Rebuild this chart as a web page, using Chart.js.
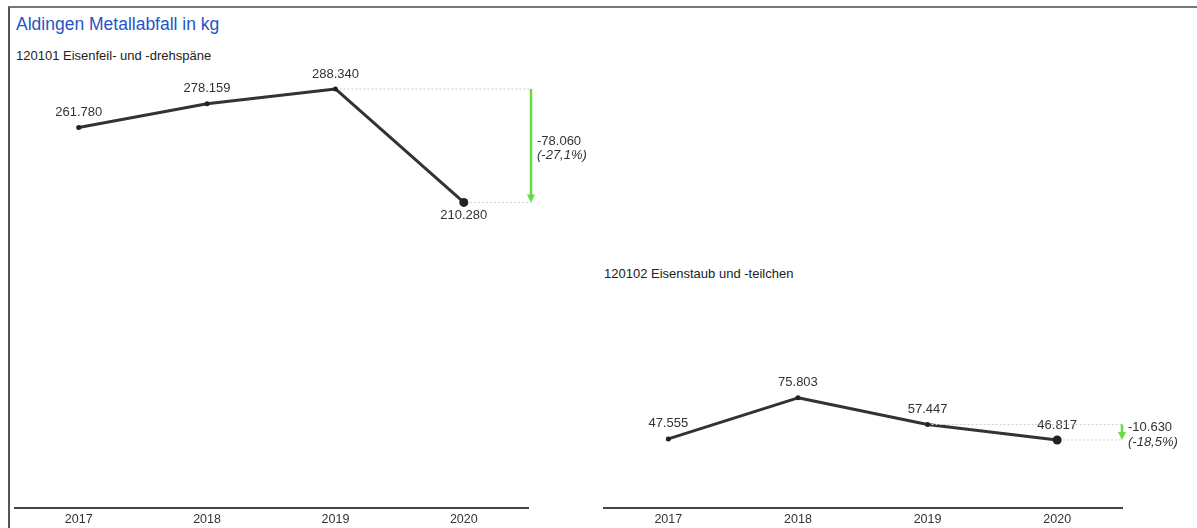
<!DOCTYPE html>
<html>
<head>
<meta charset="utf-8">
<script src="https://cdn.jsdelivr.net/npm/chart.js@4/dist/chart.umd.min.js"></script>
<style>
  html, body { margin: 0; padding: 0; background: #fff; width: 1197px; height: 528px; overflow: hidden; font-family: "Liberation Sans", Arial, sans-serif; }
  #frame { position: absolute; left: 8px; top: 6px; width: 1189px; height: 522px; border-top: 2px solid #777; border-left: 2px solid #555; box-sizing: border-box; }
  .title { position: absolute; left: 16px; top: 14px; font-size: 17.5px; color: #1f55c8; white-space: nowrap; }
  .sub { position: absolute; font-size: 13px; color: #222; white-space: nowrap; }
  .wrap { position: absolute; top: 0; height: 528px; }
</style>
</head>
<body>
<div id="frame"></div>
<div class="title">Aldingen Metallabfall in kg</div>
<div class="sub" style="left:16px; top:48px;">120101 Eisenfeil- und -drehspäne</div>
<div class="sub" style="left:604px; top:266px;">120102 Eisenstaub und -teilchen</div>
<div class="wrap" style="left:10px; width:580px;"><canvas id="c1"></canvas></div>
<div class="wrap" style="left:599px; width:598px;"><canvas id="c2"></canvas></div>
<script>
const years = ["2017", "2018", "2019", "2020"];
const eisenfeil = [261780, 278159, 288340, 210280];
const eisenstaub = [47555, 75803, 57447, 46817];
const yMax = 300000;

const fmtNum = v => v.toLocaleString('de-DE');
const fmtPct = v => v.toLocaleString('de-DE', {minimumFractionDigits: 1, maximumFractionDigits: 1});
const FONT = '"Liberation Sans", Arial, sans-serif';

const annot = {
  id: 'annot',
  afterDatasetsDraw(chart, args, opts) {
    const ctx = chart.ctx;
    const meta = chart.getDatasetMeta(0);
    const data = chart.data.datasets[0].data;
    const n = data.length;
    ctx.save();
    ctx.font = '13px ' + FONT;
    ctx.fillStyle = '#333';
    ctx.textAlign = 'center';
    ctx.textBaseline = 'middle';
    meta.data.forEach((pt, i) => {
      const below = opts.lastBelow && i === n - 1;
      ctx.fillText(fmtNum(data[i]), pt.x, below ? pt.y + 13 : pt.y - 15);
    });
    const p1 = meta.data[n - 2], p2 = meta.data[n - 1];
    const ax = chart.chartArea.right + opts.arrowOff;
    ctx.strokeStyle = '#c3d0dc';
    ctx.lineWidth = 1;
    ctx.setLineDash([2, 2]);
    ctx.beginPath();
    ctx.moveTo(p1.x + 4, p1.y); ctx.lineTo(ax, p1.y);
    ctx.moveTo(p2.x + 6, p2.y); ctx.lineTo(ax, p2.y);
    ctx.stroke();
    ctx.setLineDash([]);
    const green = '#66d943';
    const head = Math.min(8, (p2.y - p1.y) * 0.55);
    ctx.strokeStyle = green;
    ctx.lineWidth = 2.5;
    ctx.beginPath();
    ctx.moveTo(ax, p1.y); ctx.lineTo(ax, p2.y - head + 1);
    ctx.stroke();
    ctx.fillStyle = green;
    ctx.beginPath();
    ctx.moveTo(ax - 4, p2.y - head); ctx.lineTo(ax + 4, p2.y - head); ctx.lineTo(ax, p2.y);
    ctx.closePath(); ctx.fill();
    const diff = data[n - 1] - data[n - 2];
    const pct = diff / data[n - 2] * 100;
    const mid = (p1.y + p2.y) / 2;
    ctx.fillStyle = '#333';
    ctx.textAlign = 'left';
    ctx.font = '13px ' + FONT;
    ctx.fillText(fmtNum(diff), ax + 6, mid - 4.5);
    ctx.font = 'italic 13px ' + FONT;
    ctx.fillText('(' + fmtPct(pct) + '%)', ax + 6, mid + 10);
    ctx.restore();
  }
};

function make(id, values, padRight, arrowOff, lastBelow) {
  return new Chart(document.getElementById(id), {
    type: 'line',
    data: {
      labels: years,
      datasets: [{
        data: values,
        borderColor: '#333',
        borderWidth: 3,
        borderJoinStyle: 'round',
        pointBackgroundColor: '#222',
        pointBorderColor: '#222',
        pointRadius: values.map((v, i) => i === values.length - 1 ? 4.5 : 2.5),
        pointBorderWidth: 0,
        tension: 0
      }]
    },
    options: {
      responsive: true,
      maintainAspectRatio: false,
      animation: false,
      events: [],
      layout: { padding: { top: 72, right: padRight, left: 0, bottom: 0 } },
      plugins: { legend: { display: false }, tooltip: { enabled: false }, annot: { arrowOff, lastBelow } },
      scales: {
        x: {
          offset: true,
          grid: { display: false, drawTicks: false },
          border: { display: true, color: '#444', width: 2 },
          ticks: { color: '#333', font: { size: 12.5, family: FONT }, padding: 4 },
          afterFit: s => { s.height = 20; }
        },
        y: { display: false, min: 0, max: yMax }
      }
    },
    plugins: [annot]
  });
}

make('c1', eisenfeil, 62, 3, true);
make('c2', eisenstaub, 75, 0, false);
</script>
</body>
</html>
